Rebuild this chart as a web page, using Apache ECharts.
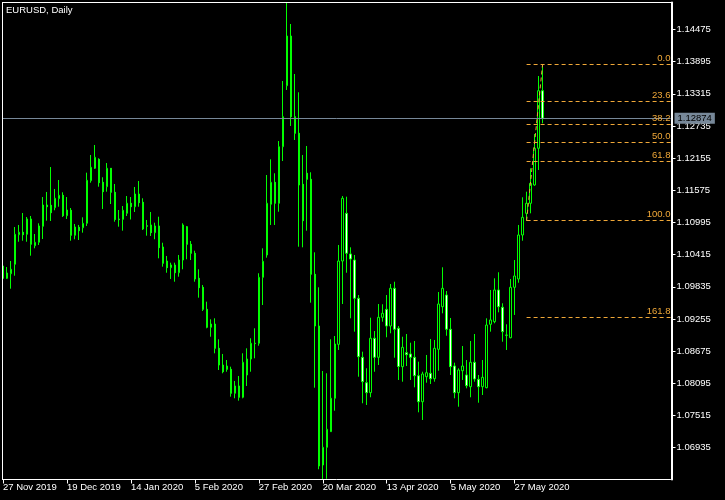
<!DOCTYPE html>
<html>
<head>
<meta charset="utf-8">
<script src="https://cdn.jsdelivr.net/npm/echarts@6/dist/echarts.min.js"></script>
<style>
html,body{margin:0;padding:0;background:#000;}
#chart{width:725px;height:500px;}
</style>
</head>
<body>
<div id="chart"></div>
<script>
// ---- data (EURUSD daily) ----
const open = [
1.10211,1.09989,1.10072,1.10242,1.10776,1.10819,1.10783,1.11059,1.10577,1.10639,
1.10927,1.11311,1.11306,1.11262,1.11425,1.11486,1.11118,1.11216,1.10765,1.10909,
1.10902,1.10981,1.11749,1.11973,1.12135,1.11720,1.11641,1.11973,1.11540,1.11059,
1.11053,1.11161,1.11342,1.11280,1.11509,1.11360,1.10938,1.10951,1.10812,1.10933,
1.10554,1.10301,1.10181,1.10229,1.10090,1.10319,1.10920,1.10603,1.10440,1.09989,
1.09827,1.09430,1.09106,1.09165,1.08727,1.08426,1.08408,1.08349,1.07916,1.08048,
1.07844,1.08246,1.08534,1.08818,1.08818,1.10007,1.10410,1.11324,1.11720,1.11342,
1.12362,1.13462,1.14358,1.12903,1.12604,1.11684,1.11883,1.11775,1.10062,1.09129,
1.06623,1.06942,1.07224,1.07826,1.08799,1.10301,1.11161,1.10428,1.10319,1.09629,
1.08565,1.08107,1.07927,1.08908,1.08565,1.09286,1.09430,1.09129,1.09809,1.09088,
1.08396,1.08648,1.08625,1.08565,1.08233,1.07764,1.08215,1.08277,1.08179,1.08709,
1.09477,1.09688,1.09070,1.08408,1.07927,1.08323,1.08246,1.08035,1.08475,1.08168,
1.08035,1.08017,1.09160,1.09207,1.09779,1.09467,1.08967,1.08918,1.09827,1.09977,
1.10770,1.11161,1.11342,1.11672,1.12334,1.13372
];
const close = [
1.09989,1.10085,1.10152,1.10783,1.10819,1.10776,1.11059,1.10603,1.10639,1.10933,
1.11311,1.11280,1.11172,1.11432,1.11486,1.11118,1.11221,1.10765,1.10914,1.10848,
1.10981,1.11756,1.11991,1.12171,1.11713,1.11551,1.11973,1.11540,1.11050,1.11046,
1.11216,1.11342,1.11280,1.11509,1.11353,1.10878,1.10927,1.10812,1.10933,1.10541,
1.10260,1.10181,1.10229,1.10090,1.10319,1.10951,1.10603,1.10440,1.09977,1.09820,
1.09430,1.09106,1.09165,1.08727,1.08426,1.08305,1.08349,1.07916,1.08048,1.07844,
1.08475,1.08534,1.08818,1.08812,1.10007,1.10296,1.11342,1.11720,1.11342,1.12362,
1.12903,1.14358,1.12903,1.12604,1.11672,1.11028,1.11775,1.10062,1.09129,1.06605,
1.06942,1.07267,1.07826,1.08805,1.10301,1.11432,1.10440,1.10338,1.09629,1.08576,
1.08125,1.07927,1.08908,1.08565,1.09286,1.09358,1.09129,1.09809,1.09070,1.08399,
1.08745,1.08612,1.08565,1.08233,1.07764,1.08264,1.08287,1.08179,1.08727,1.09526,
1.09809,1.09070,1.08396,1.07927,1.08336,1.08408,1.08053,1.08475,1.08174,1.08035,
1.08204,1.09147,1.09238,1.09779,1.09477,1.09027,1.08962,1.09827,1.10031,1.10770,
1.11089,1.11342,1.11702,1.12334,1.13372,1.12874
];
const high = [
1.10229,1.10193,1.10301,1.10914,1.10951,1.11167,1.11095,1.11113,1.10788,1.10981,
1.11455,1.11546,1.11996,1.11600,1.11762,1.11540,1.11455,1.11257,1.10969,1.10951,
1.11089,1.11894,1.12213,1.12393,1.12153,1.11811,1.12068,1.11978,1.11690,1.11221,
1.11293,1.11473,1.11455,1.11636,1.11744,1.11432,1.11041,1.11185,1.10992,1.11100,
1.10631,1.10392,1.10271,1.10271,1.10410,1.10981,1.10933,1.10662,1.10487,1.10152,
1.09869,1.09568,1.09250,1.09268,1.08890,1.08625,1.08516,1.08396,1.08138,1.08228,
1.08637,1.08727,1.08908,1.09088,1.10080,1.10530,1.11852,1.12135,1.11883,1.12465,
1.13547,1.14959,1.14575,1.13673,1.13343,1.12213,1.12375,1.11901,1.10458,1.09827,
1.08318,1.08277,1.08890,1.08949,1.10590,1.11473,1.11461,1.10548,1.10410,1.09688,
1.08666,1.08367,1.09279,1.09039,1.09526,1.09521,1.09688,1.09887,1.09928,1.09129,
1.08936,1.08985,1.08828,1.08859,1.08486,1.08305,1.08607,1.08895,1.08877,1.09742,
1.10188,1.09760,1.09274,1.08468,1.08367,1.08769,1.08516,1.08859,1.08985,1.08246,
1.08516,1.09268,1.09779,1.09989,1.10098,1.09539,1.09160,1.09977,1.10319,1.10951,
1.11450,1.11551,1.11973,1.12591,1.13637,1.13848
];
const low = [
1.09977,1.09977,1.09802,1.10036,1.10649,1.10667,1.10649,1.10397,1.10530,1.10590,
1.10698,1.11028,1.11023,1.11216,1.11280,1.11095,1.11059,1.10667,1.10693,1.10680,
1.10812,1.10933,1.11713,1.11960,1.11641,1.11239,1.11551,1.11329,1.11010,1.10920,
1.10848,1.11113,1.11050,1.11185,1.11280,1.10860,1.10758,1.10752,1.10693,1.10350,
1.10199,1.10090,1.09977,1.09928,1.10018,1.10152,1.10332,1.10319,1.09928,1.09640,
1.09400,1.09088,1.08936,1.08637,1.08336,1.08277,1.08305,1.07855,1.07826,1.07783,
1.07826,1.08048,1.08305,1.08547,1.08774,1.09508,1.10361,1.10951,1.10951,1.11190,
1.12104,1.13385,1.12736,1.12483,1.10559,1.10548,1.10848,1.09550,1.08017,1.06546,
1.06372,1.06375,1.07218,1.07602,1.08697,1.09526,1.10090,1.09268,1.09027,1.08215,
1.07736,1.07705,1.07844,1.08305,1.08426,1.09207,1.08926,1.08998,1.08558,1.08156,
1.08125,1.08408,1.08156,1.08024,1.07573,1.07435,1.08107,1.08084,1.08125,1.08323,
1.09358,1.08954,1.08246,1.07826,1.07674,1.08156,1.08006,1.07844,1.08125,1.07746,
1.07885,1.08006,1.09027,1.09178,1.09376,1.08846,1.08697,1.08908,1.09328,1.09910,
1.10667,1.11028,1.11161,1.11659,1.11942,1.12784
];
const xTickLabels = ["27 Nov 2019","19 Dec 2019","14 Jan 2020","5 Feb 2020","27 Feb 2020",
  "20 Mar 2020","13 Apr 2020","5 May 2020","27 May 2020"];
const yTickValues = [1.06935,1.07515,1.08095,1.08675,1.09255,1.09835,1.10415,
  1.10995,1.11575,1.12155,1.12735,1.13315,1.13895,1.14475];
const fibLabels = ["0.0","23.6","38.2","50.0","61.8","100.0","161.8"];
const fibPrices = [1.13848,1.13182,1.12771,1.12438,1.12105,1.11028,1.09285];
const fibFromBar = 131, fibToBar = 135;
const lastPrice = 1.12874;
const yMin = 1.063616, yMax = 1.149624;

// categories: trading days from 27 Nov 2019, then empty future slots
const MONTHS = ["Jan","Feb","Mar","Apr","May","Jun","Jul","Aug","Sep","Oct","Nov","Dec"];
const categories = [];
{
  const d = new Date(Date.UTC(2019,10,27));
  while (categories.length < open.length) {
    const wd = d.getUTCDay();
    if (wd !== 0 && wd !== 6) categories.push(d.getUTCDate()+' '+MONTHS[d.getUTCMonth()]+' '+d.getUTCFullYear());
    d.setUTCDate(d.getUTCDate()+1);
  }
  let k = 0;
  while (categories.length < 168) categories.push('_f' + (k++));
}
const candles = open.map((o,i)=>[o, close[i], low[i], high[i]]);

const FONT = '"Liberation Sans",Arial,sans-serif';
const FS = 9.5;
const FIB = '#F0A838';
const lastIdx = categories.length - 1;

const fibLines = fibPrices.map((p,i)=>[
  {coord:[fibFromBar, p], label:{show:true, formatter: fibLabels[i]}},
  {coord:[lastIdx, p]}
]);
fibLines.push([{coord:[fibFromBar, fibPrices[5]], label:{show:false}}, {coord:[fibToBar, fibPrices[0]]}]);

const priceLine = [
  {coord:[0, lastPrice], lineStyle:{color:'#778899', type:'solid', width:1},
   label:{show:true, position:'end', distance:4, formatter:lastPrice.toFixed(5),
     color:'#000', backgroundColor:'#778899', padding:[1,3,0,3], fontFamily:FONT, fontSize:FS}},
  {coord:[lastIdx, lastPrice]}
];

const labelShown = (idx)=> idx % 16 === 0 && idx/16 < xTickLabels.length;

const chart = echarts.init(document.getElementById('chart'), null, {renderer:'canvas'});
chart.setOption({
  animation:false,
  backgroundColor:'#000',
  grid:{left:2.5, right:54.5, top:2.5, bottom:20.5, containLabel:false},
  xAxis:{
    type:'category', data:categories, boundaryGap:false,
    axisLine:{show:true, lineStyle:{color:'#fff', width:1}},
    axisTick:{show:true, length:4, lineStyle:{color:'#fff'}, interval:(idx)=>labelShown(idx)},
    axisLabel:{show:true, color:'#fff', fontFamily:FONT, fontSize:FS, align:'left', margin:3,
      interval:(idx)=>labelShown(idx),
      formatter:(v,idx)=> labelShown(idx) ? xTickLabels[idx/16] : ''},
    splitLine:{show:false}
  },
  yAxis:{
    type:'value', position:'right', min:yMin, max:yMax, offset:1, scale:true,
    axisLine:{show:true, lineStyle:{color:'#fff', width:2}},
    axisTick:{show:true, length:4, lineStyle:{color:'#fff'}, customValues:yTickValues},
    axisLabel:{show:true, color:'#fff', fontFamily:FONT, fontSize:FS, margin:5,
      customValues:yTickValues, formatter:(v)=>v.toFixed(5)},
    splitLine:{show:false}
  },
  series:[
    {
      type:'candlestick', data:candles, barWidth:2,
      itemStyle:{color:'#000', color0:'#fff', borderColor:'#00ff00', borderColor0:'#00ff00',
        borderColorDoji:'#00ff00', borderWidth:1},
      markLine:{
        silent:true, symbol:['none','none'], animation:false,
        lineStyle:{color:FIB, type:[4,3], width:1},
        label:{show:true, position:'insideEndTop', color:FIB, fontFamily:FONT, fontSize:FS, distance:[0,1]},
        data: fibLines.concat([priceLine])
      }
    }
  ],
  graphic:[
    {type:'line', z:100, shape:{x1:2.5, y1:2, x2:2.5, y2:480}, style:{stroke:'#fff', lineWidth:1}},
    {type:'line', z:100, shape:{x1:2, y1:2.5, x2:672, y2:2.5}, style:{stroke:'#fff', lineWidth:1}},
    {type:'text', z:100, left:6, top:5, style:{text:'EURUSD, Daily', fill:'#fff', font:FS+'px '+FONT}}
  ]
});
</script>
</body>
</html>
